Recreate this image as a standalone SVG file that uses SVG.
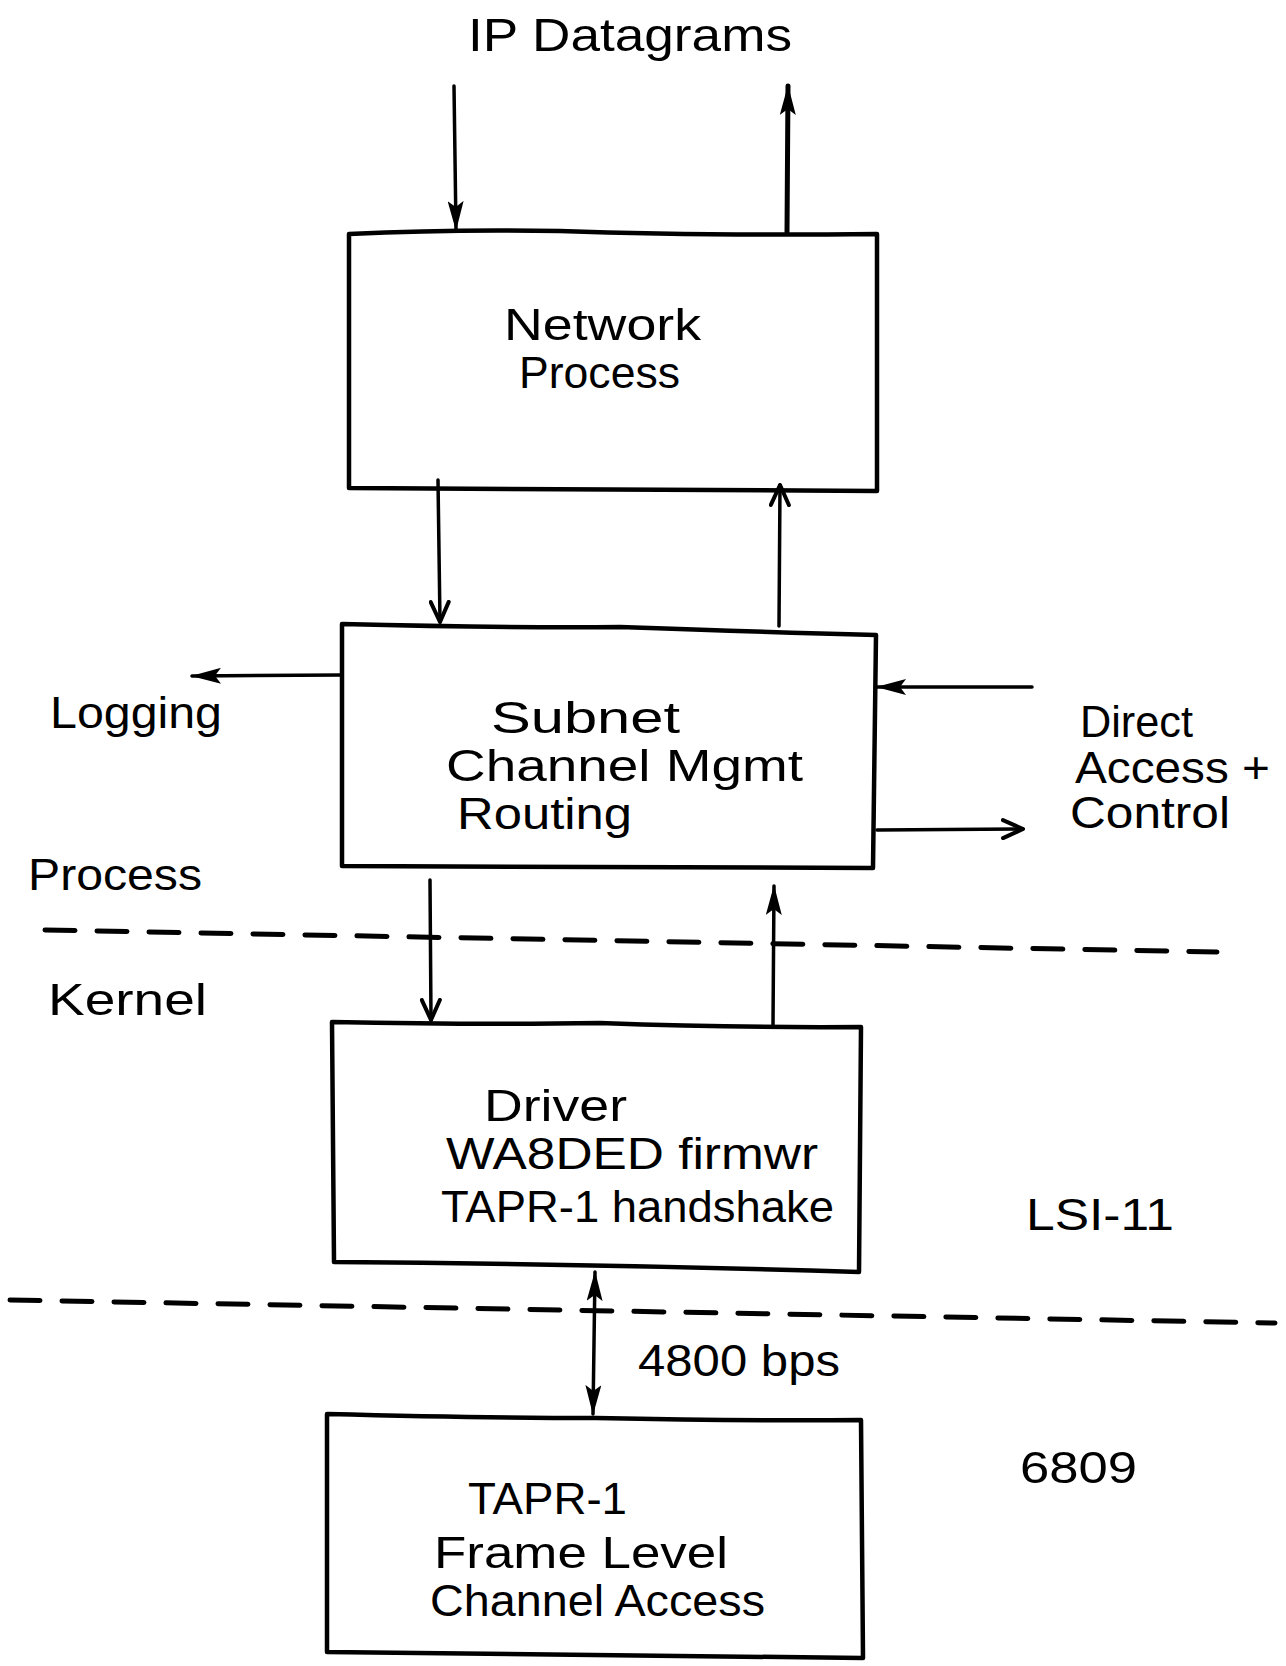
<svg xmlns="http://www.w3.org/2000/svg" width="1286" height="1666" viewBox="0 0 1286 1666">
  <style>
    .box { fill: none; stroke: #000; stroke-width: 4.5; stroke-linejoin: round; stroke-linecap: round; }
    .wire { fill: none; stroke: #000; stroke-width: 3.5; stroke-linecap: round; }
    .thick { stroke-width: 5; }
    .dash { fill: none; stroke: #000; stroke-width: 5; stroke-dasharray: 30 22; stroke-linecap: round; }
    text { font-family: "Liberation Sans", Arial, sans-serif; fill: #000; }
    .lbl { font-size: 44px; }
    .side { font-size: 44px; }
  </style>
  <defs>
    <marker id="head" viewBox="0 0 30 16" refX="29" refY="8" markerWidth="30" markerHeight="16" markerUnits="userSpaceOnUse" orient="auto-start-reverse">
      <path d="M0,0 L30,8 L0,16 L6,8 Z" fill="#000"/>
    </marker>
    <marker id="vee" viewBox="0 0 24 22" refX="22" refY="11" markerWidth="24" markerHeight="22" markerUnits="userSpaceOnUse" orient="auto">
      <path d="M2,2 L22,11 L2,20" fill="none" stroke="#000" stroke-width="4" stroke-linecap="round" stroke-linejoin="round"/>
    </marker>
  </defs>

  <rect width="1286" height="1666" fill="#fff"/>

  <!-- top label -->
  <text x="468" y="51" font-size="46" textLength="324" lengthAdjust="spacingAndGlyphs">IP Datagrams</text>

  <!-- process / kernel boundary -->
  <path class="dash" d="M45,930 L1217,952"/>
  <!-- LSI-11 / 6809 boundary -->
  <path class="dash" d="M10,1300 L1275,1323"/>

  <g id="network-process">
    <path class="box" d="M349,234 Q450,229 560,231 Q700,236 877,234 L877,491 L349,488 Z"/>
    <text class="lbl" x="504" y="340" textLength="197" lengthAdjust="spacingAndGlyphs">Network</text>
    <text class="lbl" x="519" y="388" textLength="161" lengthAdjust="spacingAndGlyphs">Process</text>
  </g>

  <g id="subnet">
    <path class="box" d="M342,624 Q500,628 620,627 Q760,632 876,635 L873,868 L342,866 Z"/>
    <text class="lbl" x="491" y="733" textLength="189" lengthAdjust="spacingAndGlyphs">Subnet</text>
    <text class="lbl" x="446" y="781" textLength="357" lengthAdjust="spacingAndGlyphs">Channel Mgmt</text>
    <text class="lbl" x="457" y="829" textLength="175" lengthAdjust="spacingAndGlyphs">Routing</text>
  </g>

  <g id="driver">
    <path class="box" d="M332,1022 Q480,1025 600,1023 Q740,1028 861,1027 L859,1272 Q600,1264 334,1262 Z"/>
    <text class="lbl" x="484" y="1121" textLength="143" lengthAdjust="spacingAndGlyphs">Driver</text>
    <text class="lbl" x="446" y="1169" textLength="372" lengthAdjust="spacingAndGlyphs">WA8DED firmwr</text>
    <text class="lbl" x="441" y="1222" textLength="393" lengthAdjust="spacingAndGlyphs">TAPR-1 handshake</text>
  </g>

  <g id="tapr">
    <path class="box" d="M327,1414 Q480,1418 596,1418 Q740,1421 861,1420 L863,1658 Q600,1654 327,1652 Z"/>
    <text class="lbl" x="468" y="1514" textLength="159" lengthAdjust="spacingAndGlyphs">TAPR-1</text>
    <text class="lbl" x="434" y="1568" textLength="294" lengthAdjust="spacingAndGlyphs">Frame Level</text>
    <text class="lbl" x="430" y="1616" textLength="335" lengthAdjust="spacingAndGlyphs">Channel Access</text>
  </g>

  <!-- side labels -->
  <g id="logging">
    <text class="side" x="50" y="728" textLength="172" lengthAdjust="spacingAndGlyphs">Logging</text>
  </g>
  <g id="direct-access">
    <text class="side" x="1080" y="737" textLength="113" lengthAdjust="spacingAndGlyphs">Direct</text>
    <text class="side" x="1075" y="783" textLength="195" lengthAdjust="spacingAndGlyphs">Access +</text>
    <text class="side" x="1070" y="828" textLength="160" lengthAdjust="spacingAndGlyphs">Control</text>
  </g>
  <text class="side" x="28" y="890" textLength="174" lengthAdjust="spacingAndGlyphs">Process</text>
  <text class="side" x="48" y="1015" textLength="159" lengthAdjust="spacingAndGlyphs">Kernel</text>
  <text class="side" x="1026" y="1230" textLength="148" lengthAdjust="spacingAndGlyphs">LSI-11</text>
  <text class="side" x="638" y="1376" textLength="202" lengthAdjust="spacingAndGlyphs">4800 bps</text>
  <text class="side" x="1020" y="1483" textLength="117" lengthAdjust="spacingAndGlyphs">6809</text>

  <g id="connectors">
    <!-- IP datagrams in / out -->
    <path class="wire" d="M454,86 L456,230" marker-end="url(#head)"/>
    <path class="wire thick" d="M787,232 L788,86" marker-end="url(#head)"/>
    <!-- network <-> subnet -->
    <path class="wire" d="M438,480 L440,622" marker-end="url(#vee)"/>
    <path class="wire" d="M779,626 L780,485" marker-end="url(#vee)"/>
    <!-- logging / direct access -->
    <path class="wire" d="M342,675 L192,676" marker-end="url(#head)"/>
    <path class="wire" d="M1032,687 L877,687" marker-end="url(#head)"/>
    <path class="wire" d="M877,830 L1023,829" marker-end="url(#vee)"/>
    <!-- subnet <-> driver -->
    <path class="wire" d="M430,880 L431,1020" marker-end="url(#vee)"/>
    <path class="wire" d="M773,1026 L774,886" marker-end="url(#head)"/>
    <!-- driver <-> TAPR-1, 4800 bps -->
    <path class="wire" d="M595,1272 L593,1414" marker-start="url(#head)" marker-end="url(#head)"/>
  </g>
</svg>
